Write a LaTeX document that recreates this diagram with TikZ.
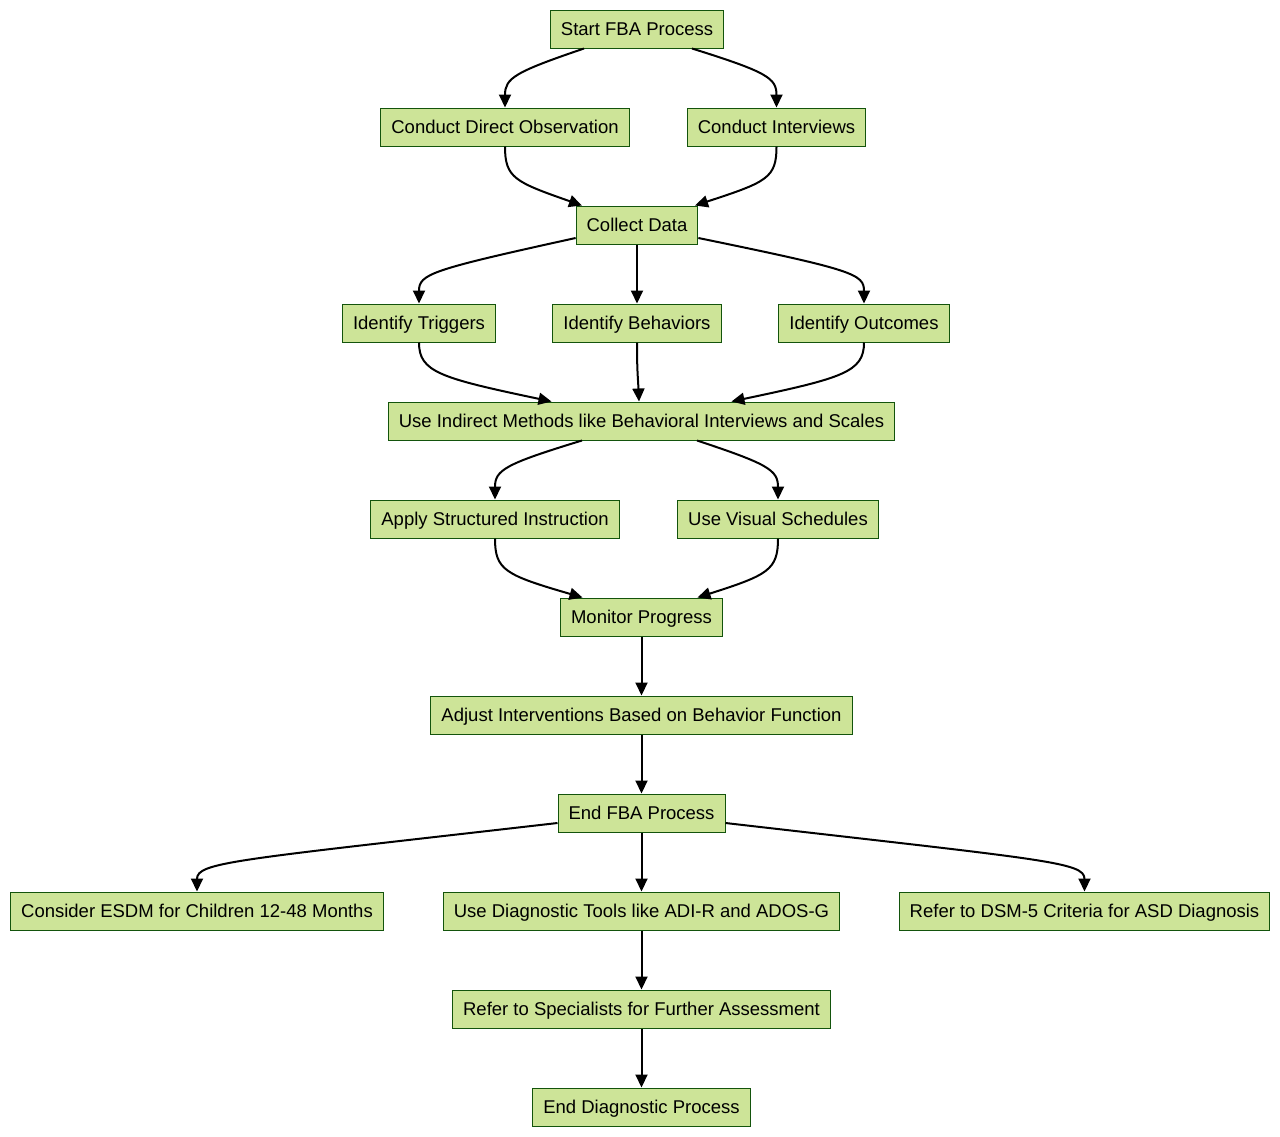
\documentclass[tikz,border=0pt]{standalone}
\usepackage{fontspec}
\setmainfont{Liberation Sans}
\usetikzlibrary{arrows.meta,calc}
\definecolor{boxfill}{HTML}{CDE498}
\definecolor{boxline}{HTML}{13540C}
\tikzset{
  box/.style={draw=boxline, fill=boxfill, line width=1pt, minimum height=38pt,
    inner xsep=10.5pt, inner ysep=0pt, text height=15.5pt, text depth=2pt,
    font=\fontsize{18.5}{22}\selectfont, text=black},
  conn/.style={line width=2pt, -{Triangle[length=13pt,width=12pt]}}
}
\begin{document}
\begin{tikzpicture}[x=1pt,y=-1pt]
\useasboundingbox[fill=white] (0,0) rectangle (1280,1136);
\node[box] (start) at (637,29) {Start FBA Process};
\node[box] (obs) at (505,127) {Conduct Direct Observation};
\node[box] (int) at (776.5,127) {Conduct Interviews};
\node[box] (collect) at (637,225) {Collect Data};
\node[box] (trig) at (419,323) {Identify Triggers};
\node[box] (beh) at (637,323) {Identify Behaviors};
\node[box] (out) at (864,323) {Identify Outcomes};
\node[box] (ind) at (641.5,421) {Use Indirect Methods like Behavioral Interviews and Scales};
\node[box] (apply) at (495,519) {Apply Structured Instruction};
\node[box] (visual) at (778,519) {Use Visual Schedules};
\node[box] (monitor) at (641.5,617) {Monitor Progress};
\node[box] (adjust) at (641.5,715) {Adjust Interventions Based on Behavior Function};
\node[box] (endfba) at (641.5,813) {End FBA Process};
\node[box] (esdm) at (197,911) {Consider ESDM for Children 12-48 Months};
\node[box] (diag) at (641.5,911) {Use Diagnostic Tools like ADI-R and ADOS-G};
\node[box] (dsm) at (1084.5,911) {Refer to DSM-5 Criteria for ASD Diagnosis};
\node[box] (refer) at (641.5,1009) {Refer to Specialists for Further Assessment};
\node[box] (enddiag) at (641.5,1107) {End Diagnostic Process};

% start -> obs, int
\draw[conn] ([xshift=-53pt]start.south) .. controls (515,72) and (505,78) .. (obs.north);
\draw[conn] ([xshift=55pt]start.south) .. controls (767,72) and (776.5,78) .. (int.north);
% obs, int -> collect
\draw[conn] (obs.south) .. controls (505,178) and (515,182) .. ([xshift=-55pt]collect.north);
\draw[conn] (int.south) .. controls (776.5,178) and (767,182) .. ([xshift=58pt]collect.north);
% collect -> trig, beh, out
\draw[conn] ([yshift=-13pt]collect.west) .. controls (430,270) and (419,274) .. (trig.north);
\draw[conn] (collect.south) -- (beh.north);
\draw[conn] ([yshift=-13pt]collect.east) .. controls (854,270) and (864,274) .. (out.north);
% trig, beh, out -> ind
\draw[conn] (trig.south) .. controls (419,372) and (440,378) .. ([xshift=-90pt]ind.north);
\draw[conn] (beh.south) .. controls (637,372) and (638,378) .. ([xshift=-2.5pt]ind.north);
\draw[conn] (out.south) .. controls (864,372) and (843,378) .. ([xshift=90pt]ind.north);
% ind -> apply, visual
\draw[conn] ([xshift=-59.5pt]ind.south) .. controls (505,464) and (495,470) .. (apply.north);
\draw[conn] ([xshift=55.5pt]ind.south) .. controls (768,464) and (778,470) .. (visual.north);
% apply, visual -> monitor
\draw[conn] (apply.south) .. controls (495,570) and (505,575) .. ([xshift=-59pt]monitor.north);
\draw[conn] (visual.south) .. controls (778,570) and (768,575) .. ([xshift=56pt]monitor.north);
% monitor -> adjust -> endfba
\draw[conn] (monitor.south) -- (adjust.north);
\draw[conn] (adjust.south) -- (endfba.north);
% endfba -> esdm, diag, dsm
\draw[conn] ([yshift=-10pt]endfba.west) .. controls (235,860) and (197,862) .. (esdm.north);
\draw[conn] (endfba.south) -- (diag.north);
\draw[conn] ([yshift=-10pt]endfba.east) .. controls (1047,860) and (1084.5,862) .. (dsm.north);
% diag -> refer -> enddiag
\draw[conn] (diag.south) -- (refer.north);
\draw[conn] (refer.south) -- (enddiag.north);
\end{tikzpicture}
\end{document}
